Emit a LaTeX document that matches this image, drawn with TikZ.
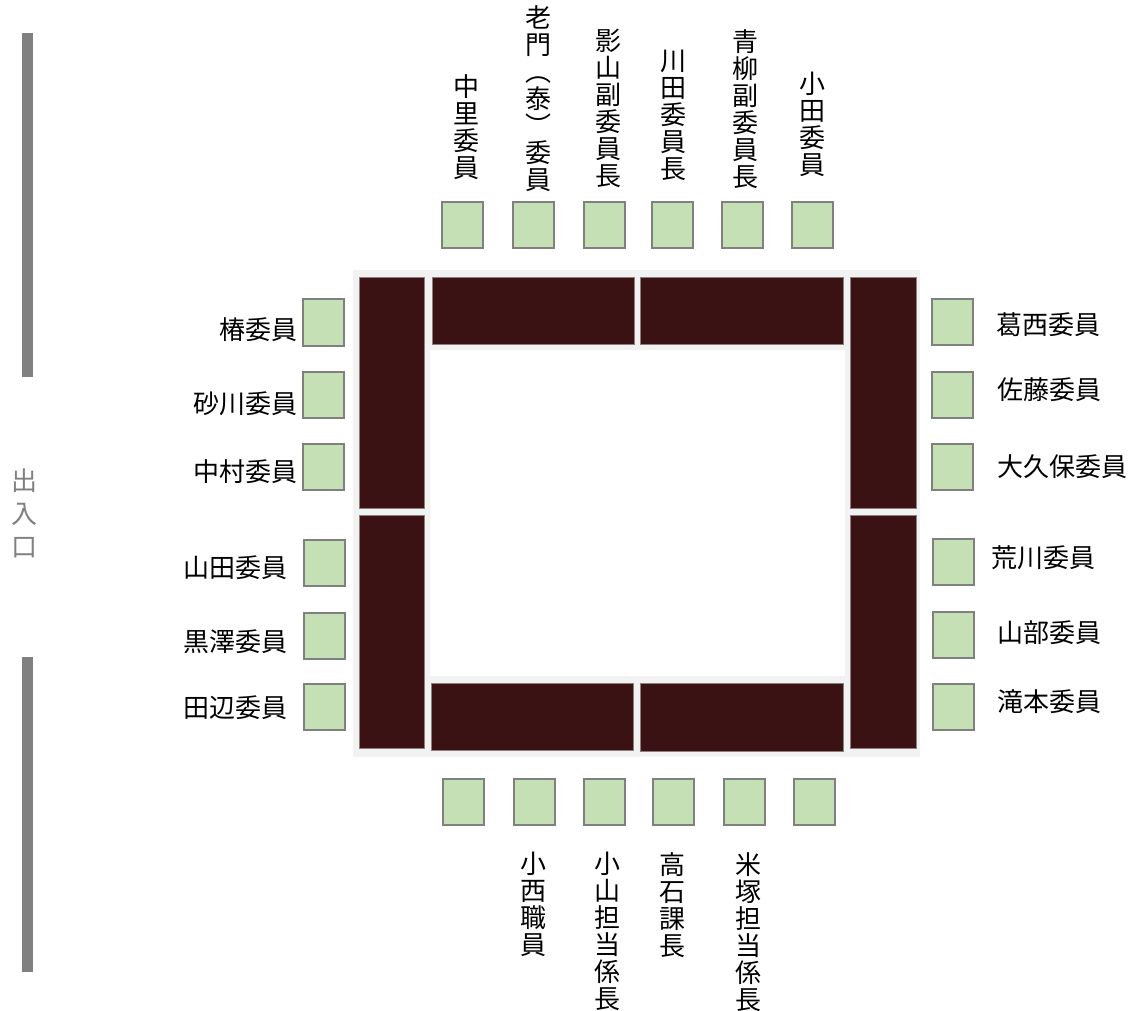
\documentclass[tikz,border=0pt]{standalone}
\usepackage{fontspec}
\newfontfamily\jp{Noto Sans CJK JP}
\definecolor{chairfill}{HTML}{C5E0B4}
\definecolor{chairline}{HTML}{808080}
\definecolor{tablefill}{HTML}{3A1213}
\definecolor{tableline}{HTML}{8C7F80}
\definecolor{band}{HTML}{F2F2F2}
\definecolor{wall}{HTML}{808080}
\tikzset{
  chair/.style={draw=chairline, line width=2pt, fill=chairfill, minimum width=41pt, minimum height=46pt, inner sep=0pt},
  desk/.style={draw=tableline, line width=0.8pt, fill=tablefill},
  lbl/.style={font=\jp\fontsize{26}{27}\selectfont, inner sep=0pt, text=black},
  vlbl/.style={lbl, align=center, anchor=north},
  llbl/.style={lbl, anchor=east},
  rlbl/.style={lbl, anchor=west},
}
\begin{document}
\begin{tikzpicture}[x=1pt,y=-1pt]
\useasboundingbox (0,0) rectangle (1136,1011);
% walls and entrance
\fill[wall] (22,33) rectangle (33,377);
\fill[wall] (22,657) rectangle (33,972);
\node[lbl, align=center, anchor=north, text=wall, font=\jp\fontsize{26}{33}\selectfont] (door) at (24.5,469) {出\\入\\口};
% table
\fill[band] (353,270) rectangle (920,757);
\fill[white] (430,350) rectangle (845,676);
\draw[desk] (359,277) rectangle (424,508);
\draw[desk] (359,515) rectangle (424,748);
\draw[desk] (432,277) rectangle (634,344);
\draw[desk] (640,277) rectangle (843,344);
\draw[desk] (850,277) rectangle (916,508);
\draw[desk] (850,515) rectangle (916,748);
\draw[desk] (431,683) rectangle (633,750);
\draw[desk] (640,683) rectangle (843,751);
% top chairs
\node[chair] (t1) at (462.5,225.5) {};
\node[chair] (t2) at (533.5,225.5) {};
\node[chair] (t3) at (604,225.5) {};
\node[chair] (t4) at (672,225.5) {};
\node[chair] (t5) at (742.5,225.5) {};
\node[chair] (t6) at (812.5,225.5) {};
% bottom chairs
\node[chair] (b1) at (463.5,801.5) {};
\node[chair] (b2) at (534,801.5) {};
\node[chair] (b3) at (604,801.5) {};
\node[chair] (b4) at (673,801.5) {};
\node[chair] (b5) at (744,801.5) {};
\node[chair] (b6) at (814,801.5) {};
% left chairs
\node[chair] (l1) at (323.5,322.5) {};
\node[chair] (l2) at (323.5,395) {};
\node[chair] (l3) at (323.5,467) {};
\node[chair] (l4) at (324.5,562.5) {};
\node[chair] (l5) at (324.5,635.5) {};
\node[chair] (l6) at (324.5,707) {};
% right chairs
\node[chair] (r1) at (952.5,322) {};
\node[chair] (r2) at (952.5,395) {};
\node[chair] (r3) at (952.5,467) {};
\node[chair] (r4) at (953.5,562) {};
\node[chair] (r5) at (953.5,635) {};
\node[chair] (r6) at (953.5,707) {};
% top labels
\node[vlbl] (tl1) at (466,74) {中\\里\\委\\員};
\node[vlbl] (tl2) at (538,5) {老\\門\\︵\\泰\\︶\\委\\員};
\node[vlbl] (tl3) at (608,29) {影\\山\\副\\委\\員\\長};
\node[vlbl] (tl4) at (673,50) {川\\田\\委\\員\\長};
\node[vlbl] (tl5) at (745,29) {青\\柳\\副\\委\\員\\長};
\node[vlbl] (tl6) at (812,72) {小\\田\\委\\員};
% bottom labels
\node[vlbl] (bl1) at (533,852) {小\\西\\職\\員};
\node[vlbl] (bl2) at (607,852) {小\\山\\担\\当\\係\\長};
\node[vlbl] (bl3) at (672,852) {高\\石\\課\\長};
\node[vlbl] (bl4) at (748,852) {米\\塚\\担\\当\\係\\長};
% left labels
\node[llbl] (ll1) at (298,330) {椿委員};
\node[llbl] (ll2) at (298,404) {砂川委員};
\node[llbl] (ll3) at (298,472) {中村委員};
\node[llbl] (ll4) at (288,568) {山田委員};
\node[llbl] (ll5) at (288,642) {黒澤委員};
\node[llbl] (ll6) at (288,708) {田辺委員};
% right labels
\node[rlbl] (rl1) at (996,325) {葛西委員};
\node[rlbl] (rl2) at (997,390) {佐藤委員};
\node[rlbl] (rl3) at (997,467) {大久保委員};
\node[rlbl] (rl4) at (991,558) {荒川委員};
\node[rlbl] (rl5) at (997,633) {山部委員};
\node[rlbl] (rl6) at (997,702) {滝本委員};
\end{tikzpicture}
\end{document}
